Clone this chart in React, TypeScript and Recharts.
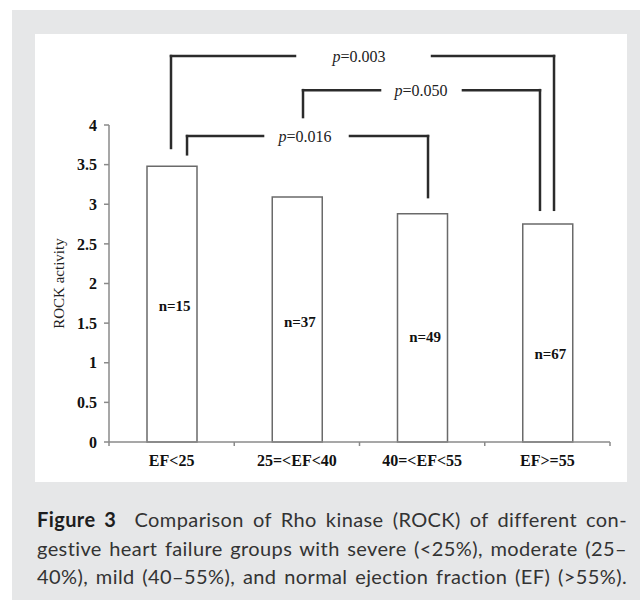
import React from 'react';
import { ComposedChart, Bar, XAxis, YAxis, ReferenceLine, ReferenceDot } from 'recharts';

const categories = ['EF<25', '25=<EF<40', '40=<EF<55', 'EF>=55'];
const groupCenters = [0.5, 1.5, 2.5, 3.5];
const rockValues = [3.48, 3.09, 2.88, 2.75];
const sampleSizes = ['n=15', 'n=37', 'n=49', 'n=67'];
const sampleLabelY = [1.72, 1.52, 1.33, 1.12];
const yTicks = [0, 0.5, 1, 1.5, 2, 2.5, 3, 3.5, 4];
const groupEdges = [0, 1, 2, 3, 4];

// significance brackets (x in group units along the category range, y in ROCK units)
const pValues = ['0.003', '0.050', '0.016'];
const bracketLeftX = [0.495, 1.549, 0.623];
const bracketRightX = [3.553, 3.441, 2.547];
const bracketTopY = [4.87, 4.44, 3.86];
const bracketLeftBottomY = [3.71, 4.1, 3.63];
const bracketRightBottomY = [2.93, 2.93, 3.09];
const bracketGapStart = [1.485, 2.164, 1.23];
const bracketGapEnd = [2.579, 2.826, 1.924];
const bracketLabelX = [1.996, 2.491, 1.565];

const data = categories.map((group, i) => ({ group, pos: groupCenters[i], rock: rockValues[i] }));

const SERIF = '"Liberation Serif", "Times New Roman", serif';
const AXIS = '#8a8a8a';
const LINE = '#2b2b2b';

const PText = ({ viewBox, text }: any) => {
  const cx = viewBox.x + viewBox.width / 2;
  const cy = viewBox.y + viewBox.height / 2;
  return (
    <text x={cx} y={cy} dy="0.35em" textAnchor="middle" fontFamily={SERIF} fontSize={16} fill="#222">
      <tspan fontStyle="italic">p</tspan>={text}
    </text>
  );
};

export default function App() {
  const segs: any[] = [];
  pValues.forEach((_, i) => {
    segs.push([{ x: bracketLeftX[i], y: bracketLeftBottomY[i] }, { x: bracketLeftX[i], y: bracketTopY[i] }]);
    segs.push([{ x: bracketLeftX[i], y: bracketTopY[i] }, { x: bracketGapStart[i], y: bracketTopY[i] }]);
    segs.push([{ x: bracketGapEnd[i], y: bracketTopY[i] }, { x: bracketRightX[i], y: bracketTopY[i] }]);
    segs.push([{ x: bracketRightX[i], y: bracketTopY[i] }, { x: bracketRightX[i], y: bracketRightBottomY[i] }]);
  });

  const lineStyle: React.CSSProperties = { textAlign: 'justify', textAlignLast: 'justify', whiteSpace: 'nowrap' };

  return (
    <div style={{ position: 'absolute', left: 0, top: 0, width: 640, height: 603, background: '#fff' }}>
      <div style={{ position: 'absolute', left: 12, top: 10, width: 628, height: 590, background: '#e6e7e8' }} />
      <div style={{ position: 'absolute', left: 35, top: 34, width: 592, height: 448, background: '#fff' }} />
      <div style={{ position: 'absolute', left: 0, top: 0 }}>
        <ComposedChart width={640} height={603} data={data} margin={{ top: 125, right: 30, left: 49, bottom: 130 }}>
          <XAxis
            xAxisId="zcat"
            dataKey="group"
            interval={0}
            tickLine={false}
            tickSize={0}
            tickMargin={12}
            height={30}
            axisLine={false}
            tick={{ fontFamily: SERIF, fontSize: 16, fontWeight: 'bold', fill: '#111' }}
          />
          <XAxis
            xAxisId="edge"
            dataKey="pos"
            type="number"
            domain={[0, 4]}
            ticks={groupEdges}
            tickFormatter={() => ' '}
            axisLine={{ stroke: AXIS, strokeWidth: 1.5 }}
            tickLine={{ stroke: AXIS, strokeWidth: 1.5 }}
            tickSize={4}
            height={1}
            allowDataOverflow
          />
          <YAxis
            domain={[0, 4]}
            ticks={yTicks}
            width={60}
            tickSize={5}
            tickMargin={7}
            axisLine={{ stroke: AXIS, strokeWidth: 1.5 }}
            tickLine={{ stroke: AXIS, strokeWidth: 1.5 }}
            tick={{ fontFamily: SERIF, fontSize: 16, fontWeight: 'bold', fill: '#111' }}
            label={{
              value: 'ROCK activity',
              angle: -90,
              position: 'insideLeft',
              offset: 10,
              style: { textAnchor: 'middle', fontFamily: SERIF, fontSize: 15, fill: '#222' },
            }}
          />
          <Bar
            xAxisId="zcat"
            dataKey="rock"
            fill="#fff"
            stroke="#6a6a6a"
            strokeWidth={1.5}
            barSize={50}
            isAnimationActive={false}
          />
          {categories.map((c, i) => (
            <ReferenceDot
              key={'n' + i}
              xAxisId="zcat"
              x={c}
              y={sampleLabelY[i]}
              r={0}
              fill="none"
              stroke="none"
              ifOverflow="visible"
              label={{
                value: sampleSizes[i],
                position: 'center',
                dx: 3,
                fontFamily: SERIF,
                fontSize: 15,
                fontWeight: 'bold',
                fill: '#111',
              }}
            />
          ))}
          {segs.map((s, i) => (
            <ReferenceLine
              key={'s' + i}
              xAxisId="edge"
              segment={s}
              stroke={LINE}
              strokeWidth={2.5}
              strokeLinecap="square"
              ifOverflow="visible"
            />
          ))}
          {pValues.map((p, i) => (
            <ReferenceDot
              key={'p' + i}
              xAxisId="edge"
              x={bracketLabelX[i]}
              y={bracketTopY[i]}
              r={0}
              fill="none"
              stroke="none"
              ifOverflow="visible"
              label={(props: any) => <PText viewBox={props.viewBox} text={p} />}
            />
          ))}
        </ComposedChart>
      </div>
      <div
        style={{
          position: 'absolute',
          left: 37,
          top: 505,
          width: 590,
          fontFamily: 'Lato, "Open Sans", sans-serif',
          fontSize: 20,
          letterSpacing: 0.4,
          lineHeight: '28.5px',
          color: '#333',
        }}
      >
        <div style={lineStyle}>
          <b style={{ color: '#1e1e1e' }}>Figure 3</b>&nbsp; Comparison of Rho kinase (ROCK) of different con-
        </div>
        <div style={lineStyle}>gestive heart failure groups with severe (&lt;25%), moderate (25–</div>
        <div style={lineStyle}>40%), mild (40–55%), and normal ejection fraction (EF) (&gt;55%).</div>
      </div>
    </div>
  );
}
